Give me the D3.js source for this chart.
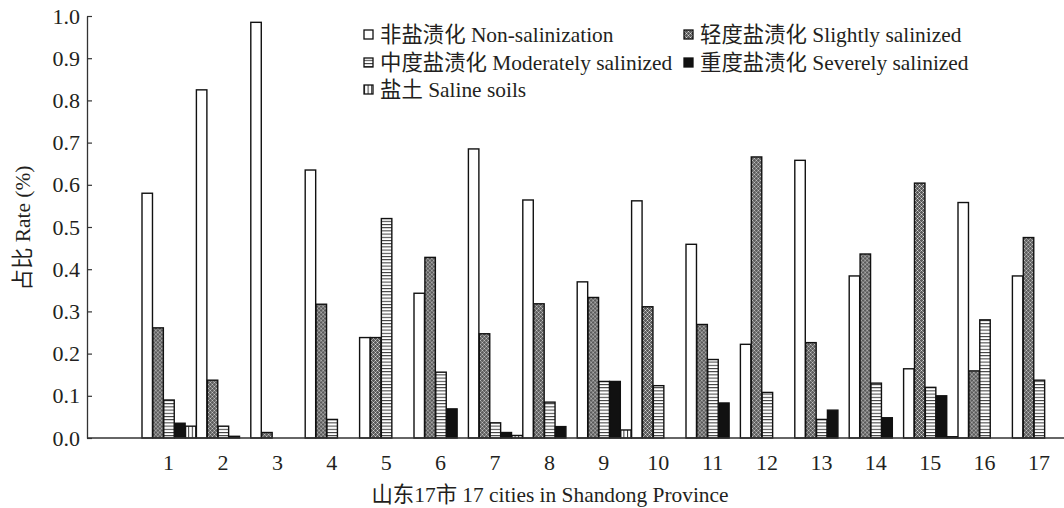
<!DOCTYPE html>
<html>
<head>
<meta charset="utf-8">
<script src="https://cdn.jsdelivr.net/npm/d3@7"></script>
<style>
  body { margin: 0; background: #fff; }
  svg { display: block; }
  text { font-family: "Liberation Serif", "Noto Sans CJK SC", serif; fill: #231f20; }
</style>
</head>
<body>
<div id="chart"></div>
<script>
// data
const cities = ['1', '2', '3', '4', '5', '6', '7', '8', '9', '10', '11', '12', '13', '14', '15', '16', '17'];
const seriesKeys = ['non', 'slight', 'moderate', 'severe', 'saline'];
const seriesNames = [
    '非盐渍化 Non-salinization',
    '轻度盐渍化 Slightly salinized',
    '中度盐渍化 Moderately salinized',
    '重度盐渍化 Severely salinized',
    '盐土 Saline soils'
];
const nonSalinization = [0.58, 0.825, 0.985, 0.635, 0.238, 0.343, 0.685, 0.564, 0.370, 0.562, 0.459, 0.222, 0.658, 0.384, 0.164, 0.558, 0.384];
const slightly = [0.261, 0.137, 0.013, 0.317, 0.238, 0.428, 0.247, 0.318, 0.333, 0.311, 0.269, 0.666, 0.226, 0.436, 0.604, 0.159, 0.475];
const moderately = [0.09, 0.028, 0, 0.044, 0.52, 0.156, 0.036, 0.085, 0.134, 0.124, 0.186, 0.108, 0.044, 0.13, 0.12, 0.28, 0.137];
const severely = [0.035, 0.004, 0, 0, 0, 0.069, 0.013, 0.027, 0.134, 0, 0.083, 0, 0.066, 0.048, 0.10, 0, 0];
const saline = [0.028, 0, 0, 0, 0, 0, 0.006, 0, 0.019, 0, 0, 0, 0, 0, 0.003, 0, 0];
const yTicks = [0, 0.1, 0.2, 0.3, 0.4, 0.5, 0.6, 0.7, 0.8, 0.9, 1.0];

const seriesValues = [nonSalinization, slightly, moderately, severely, saline];

const W = 1064, H = 508;
const margin = {left: 87, top: 16, bottom: 70};
const plotBottom = H - margin.bottom;
const step = 54.4;
const fontSize = 21.4;

const svg = d3.select('#chart').append('svg')
    .attr('width', W)
    .attr('height', H);

// patterns
const defs = svg.append('defs');

const pSlight = defs.append('pattern')
    .attr('id', 'p-slight')
    .attr('patternUnits', 'userSpaceOnUse')
    .attr('width', 4).attr('height', 4);
pSlight.append('rect').attr('width', 4).attr('height', 4).attr('fill', '#5a5a5a');
pSlight.append('path').attr('d', 'M0,0h1v1h-1z M2,2h1v1h-1z').attr('fill', '#d8d8d8');
pSlight.append('path').attr('d', 'M1,1h1v1h-1z M3,3h1v1h-1z M3,1h1v1h-1z M1,3h1v1h-1z').attr('fill', '#9a9a9a');

const pMod = defs.append('pattern')
    .attr('id', 'p-moderate')
    .attr('patternUnits', 'userSpaceOnUse')
    .attr('width', 6).attr('height', 3.2);
pMod.append('rect').attr('width', 6).attr('height', 3.2).attr('fill', '#fff');
pMod.append('rect').attr('y', 0).attr('width', 6).attr('height', 1).attr('fill', '#333');

const pSal = defs.append('pattern')
    .attr('id', 'p-saline')
    .attr('patternUnits', 'userSpaceOnUse')
    .attr('width', 3.6).attr('height', 6);
pSal.append('rect').attr('width', 3.6).attr('height', 6).attr('fill', '#fff');
pSal.append('rect').attr('x', 0).attr('width', 1).attr('height', 6).attr('fill', '#333');

const fills = {
    non: '#fff',
    slight: 'url(#p-slight)',
    moderate: 'url(#p-moderate)',
    severe: '#111',
    saline: 'url(#p-saline)'
};

// scales
const x = d3.scaleBand()
    .domain(cities)
    .range([margin.left + step, margin.left + step * (cities.length + 1)])
    .padding(0);

const xInner = d3.scaleBand()
    .domain(seriesKeys)
    .range([0, x.bandwidth()])
    .padding(0);

const y = d3.scaleLinear()
    .domain([0, 1])
    .range([plotBottom, margin.top]);

// bars
const rows = cities.map((c, i) => ({
    city: c,
    values: seriesKeys.map((k, j) => ({key: k, value: seriesValues[j][i]}))
}));

svg.append('g').selectAll('g')
    .data(rows).enter()
    .append('g')
    .attr('transform', d => 'translate(' + x(d.city) + ',0)')
    .selectAll('rect')
    .data(d => d.values.filter(v => v.value > 0)).enter()
    .append('rect')
    .attr('x', d => xInner(d.key) + 0.6)
    .attr('y', d => y(d.value))
    .attr('width', xInner.bandwidth() - 0.4)
    .attr('height', d => plotBottom - y(d.value))
    .attr('fill', d => fills[d.key])
    .attr('stroke', '#111')
    .attr('stroke-width', 1.4);

// axes
const yAxis = d3.axisLeft(y)
    .tickValues(yTicks)
    .tickFormat(d3.format('.1f'))
    .tickSizeInner(-5)
    .tickSizeOuter(0)
    .tickPadding(7);

const gy = svg.append('g')
    .attr('transform', 'translate(' + margin.left + ',0)')
    .call(yAxis);
gy.select('.domain').attr('stroke', '#333').attr('stroke-width', 1.3);
gy.selectAll('.tick line').attr('stroke', '#333').attr('stroke-width', 1.2);
gy.selectAll('.tick text')
    .attr('font-size', 22)
    .attr('font-family', '"Liberation Serif", serif')
    .attr('fill', '#231f20');

svg.append('line')
    .attr('x1', margin.left).attr('x2', W)
    .attr('y1', plotBottom).attr('y2', plotBottom)
    .attr('stroke', '#333')
    .attr('stroke-width', 1.3);

const xAxis = d3.axisBottom(x)
    .tickSize(0)
    .tickPadding(16);

const gx = svg.append('g')
    .attr('transform', 'translate(0,' + plotBottom + ')')
    .call(xAxis);
gx.select('.domain').remove();
gx.selectAll('.tick text')
    .attr('font-size', 22)
    .attr('font-family', '"Liberation Serif", serif')
    .attr('fill', '#231f20');

// axis titles
svg.append('text')
    .attr('transform', 'translate(30,228) rotate(-90)')
    .attr('text-anchor', 'middle')
    .attr('font-size', fontSize)
    .text('占比 Rate (%)');

svg.append('text')
    .attr('x', 550)
    .attr('y', 502)
    .attr('text-anchor', 'middle')
    .attr('font-size', fontSize)
    .text('山东17市 17 cities in Shandong Province');

// legend
const legendPos = [
    [364, 35], [684, 35],
    [364, 63], [684, 63],
    [364, 90]
];

const legend = svg.append('g').selectAll('g')
    .data(seriesKeys).enter()
    .append('g')
    .attr('transform', (d, i) => 'translate(' + legendPos[i][0] + ',' + legendPos[i][1] + ')');

legend.append('rect')
    .attr('x', 0).attr('y', -5)
    .attr('width', 9).attr('height', 9)
    .attr('fill', d => fills[d])
    .attr('stroke', '#111')
    .attr('stroke-width', 1.3);

legend.append('text')
    .attr('x', 16)
    .attr('y', 7)
    .attr('font-size', fontSize)
    .text((d, i) => seriesNames[i]);
</script>
</body>
</html>
